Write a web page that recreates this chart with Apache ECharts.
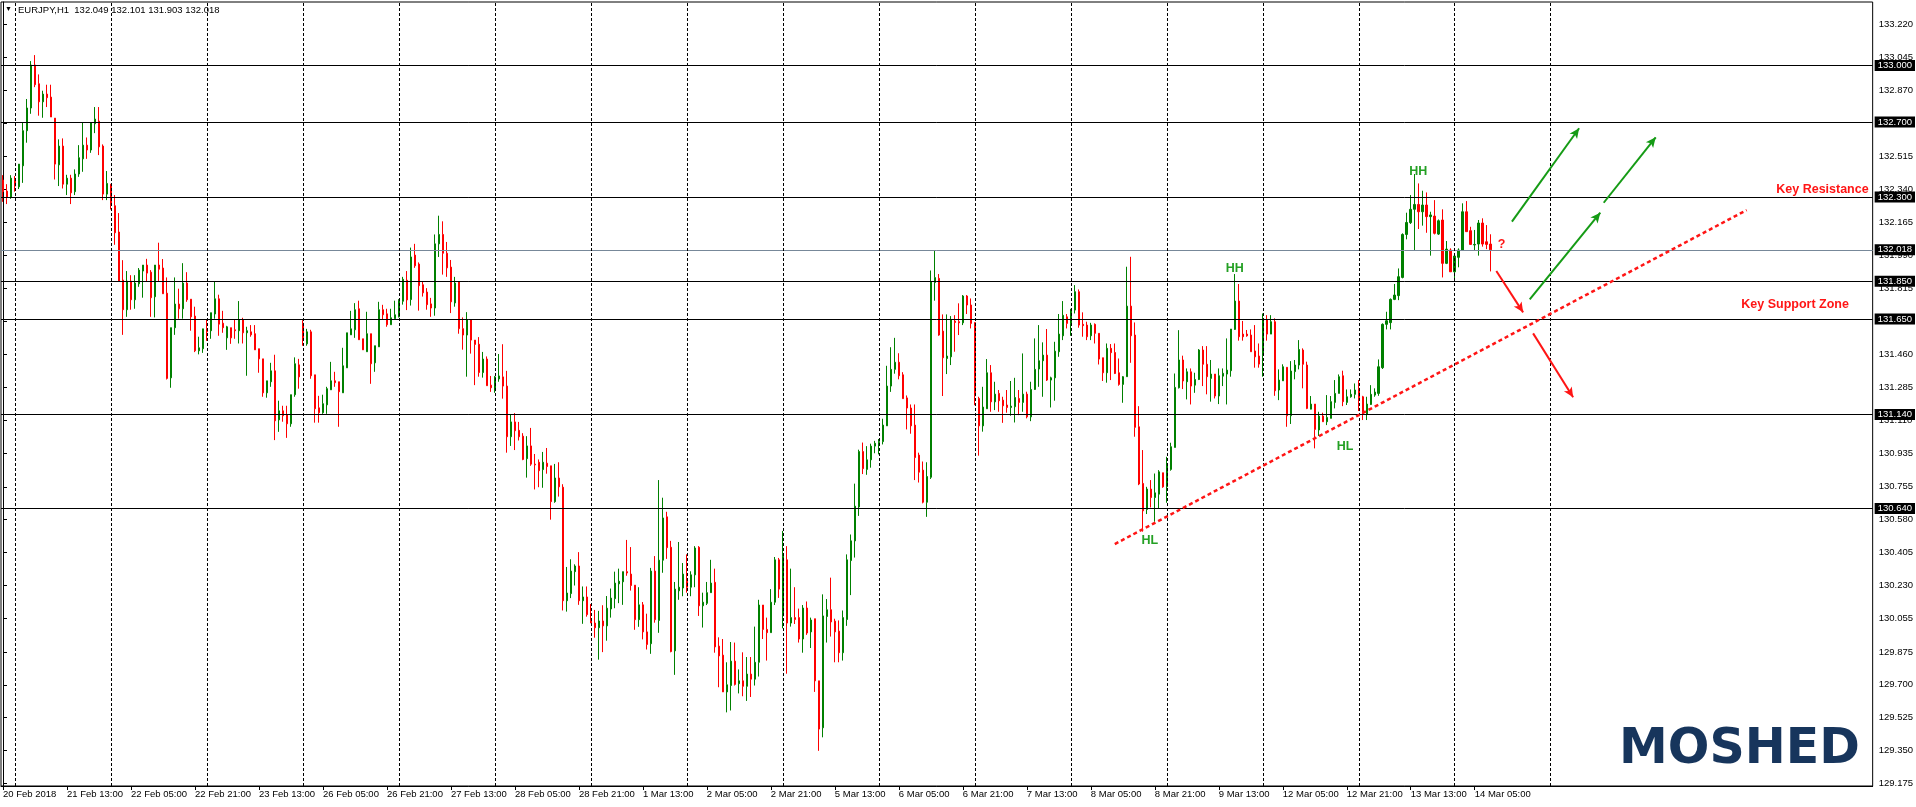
<!DOCTYPE html>
<html><head><meta charset="utf-8">
<script src="https://cdn.jsdelivr.net/npm/echarts@6/dist/echarts.min.js"></script>
<style>html,body{margin:0;padding:0;background:#fff}#c{width:1916px;height:807px}</style>
</head><body><div id="c"></div>
<script>
const headerText = 'EURJPY,H1  132.049 132.101 131.903 132.018';
const xTickLabels = ['20 Feb 2018','21 Feb 13:00','22 Feb 05:00','22 Feb 21:00','23 Feb 13:00','26 Feb 05:00','26 Feb 21:00','27 Feb 13:00','28 Feb 05:00','28 Feb 21:00','1 Mar 13:00','2 Mar 05:00','2 Mar 21:00','5 Mar 13:00','6 Mar 05:00','6 Mar 21:00','7 Mar 13:00','8 Mar 05:00','8 Mar 21:00','9 Mar 13:00','12 Mar 05:00','12 Mar 21:00','13 Mar 13:00','14 Mar 05:00'];
const barsPerXLabel = 16;
const yTickLabels = [133.220,133.045,132.870,132.695,132.515,132.340,132.165,131.990,131.815,131.640,131.460,131.285,131.110,130.935,130.755,130.580,130.405,130.230,130.055,129.875,129.700,129.525,129.350,129.175];
const levelLines = [133.000,132.700,132.300,131.850,131.650,131.140,130.640];
const currentPrice = 132.018;
const daySeparators = [3,27,51,75,99,123,147,171,195,219,243,267,291,315,339,363,387];
const barSlots = 468;
const categories = Array.from({length: barSlots}, (_, i) => String(i));
// [open, close, low, high]
const candles = [
[132.390,132.328,132.274,132.416],[132.331,132.297,132.262,132.368],[132.297,132.400,132.290,132.416],[132.393,132.358,132.328,132.411],[132.354,132.475,132.342,132.475],
[132.466,132.653,132.375,132.695],[132.653,132.774,132.589,132.822],[132.774,133.003,132.743,133.024],[133.003,132.898,132.885,133.056],[132.903,132.807,132.733,132.953],
[132.807,132.848,132.722,132.866],[132.848,132.829,132.779,132.898],[132.832,132.726,132.726,132.898],[132.720,132.475,132.393,132.720],[132.471,132.571,132.358,132.607],
[132.571,132.368,132.345,132.612],[132.368,132.400,132.310,132.418],[132.400,132.322,132.262,132.418],[132.328,132.422,132.310,132.447],[132.422,132.509,132.407,132.576],
[132.503,132.576,132.434,132.695],[132.576,132.550,132.503,132.617],[132.550,132.695,132.535,132.695],[132.690,132.715,132.640,132.779],[132.704,132.567,132.523,132.779],
[132.571,132.315,132.283,132.580],[132.315,132.372,132.283,132.438],[132.368,132.256,132.233,132.368],[132.253,132.109,132.045,132.310],[132.113,131.851,131.851,132.214],
[131.857,131.699,131.565,131.963],[131.699,131.851,131.661,131.905],[131.851,131.752,131.699,131.883],[131.752,131.841,131.704,131.883],[131.837,131.910,131.821,131.921],
[131.905,131.937,131.763,131.937],[131.937,131.894,131.851,131.970],[131.899,131.763,131.661,131.910],[131.768,131.937,131.658,131.937],[131.937,131.915,131.851,132.056],
[131.921,131.784,131.784,131.969],[131.787,131.333,131.327,131.871],[131.336,131.603,131.283,131.603],[131.603,131.729,131.565,131.871],[131.729,131.704,131.651,131.811],
[131.704,131.841,131.651,131.947],[131.841,131.752,131.741,131.899],[131.755,131.661,131.587,131.755],[131.665,131.480,131.473,131.715],[131.480,131.496,131.461,131.555],
[131.491,131.597,131.469,131.597],[131.597,131.581,131.533,131.645],[131.587,131.683,131.544,131.683],[131.676,131.757,131.651,131.851],[131.757,131.622,131.560,131.779],
[131.627,131.603,131.576,131.693],[131.549,131.608,131.485,131.613],[131.603,131.549,131.517,131.603],[131.592,131.587,131.544,131.645],[131.587,131.645,131.519,131.745],
[131.645,131.576,131.519,131.656],[131.576,131.587,131.347,131.608],[131.581,131.565,131.555,131.617],[131.571,131.485,131.485,131.617],[131.491,131.437,131.363,131.491],
[131.437,131.256,131.235,131.437],[131.256,131.320,131.230,131.320],[131.315,131.373,131.288,131.416],[131.373,131.107,131.004,131.459],[131.112,131.160,131.048,131.214],
[131.160,131.134,131.102,131.187],[131.139,131.091,131.016,131.187],[131.091,131.246,131.075,131.246],[131.246,131.411,131.235,131.445],[131.405,131.341,131.278,131.437],
[131.627,131.549,131.507,131.643],[131.517,131.581,131.507,131.597],[131.581,131.347,131.331,131.592],[131.352,131.171,131.097,131.352],[131.176,131.150,131.097,131.240],
[131.150,131.198,131.144,131.246],[131.192,131.278,131.144,131.288],[131.272,131.320,131.272,131.421],[131.320,131.310,131.288,131.368],[131.315,131.262,131.075,131.315],
[131.256,131.400,131.256,131.496],[131.389,131.576,131.389,131.576],[131.565,131.597,131.565,131.693],[131.592,131.699,131.549,131.734],[131.704,131.539,131.539,131.747],
[131.544,131.485,131.485,131.544],[131.475,131.571,131.475,131.688],[131.571,131.411,131.304,131.571],[131.416,131.507,131.368,131.507],[131.501,131.699,131.501,131.741],
[131.699,131.672,131.645,131.725],[131.677,131.619,131.608,131.704],[131.619,131.656,131.619,131.704],[131.651,131.672,131.651,131.747],[131.661,131.747,131.658,131.755],
[131.744,131.861,131.726,131.874],[131.856,131.751,131.697,131.905],[131.753,131.980,131.721,132.030],[131.990,131.933,131.922,132.050],[131.942,131.827,131.694,131.951],
[131.832,131.789,131.769,131.847],[131.793,131.726,131.699,131.814],[131.730,131.708,131.661,131.762],[131.708,132.050,131.667,132.100],[132.050,132.100,131.980,132.200],
[132.100,132.000,131.886,132.170],[132.000,131.922,131.874,132.060],[131.926,131.741,131.681,131.964],[131.735,131.841,131.715,131.874],[131.847,131.598,131.571,131.847],
[131.598,131.564,131.486,131.658],[131.564,131.645,131.342,131.686],[131.645,131.537,131.465,131.645],[131.537,131.514,131.297,131.537],[131.515,131.364,131.342,131.553],
[131.364,131.436,131.337,131.474],[131.436,131.294,131.294,131.450],[131.297,131.283,131.261,131.346],[131.267,131.341,131.256,131.346],[131.330,131.346,131.315,131.463],
[131.341,131.292,131.225,131.515],[131.292,131.022,130.937,131.373],[131.022,131.101,130.973,131.141],[131.101,131.054,130.951,131.148],[131.056,131.022,131.002,131.101],
[131.025,130.901,130.897,131.041],[130.905,130.973,130.804,131.025],[130.973,130.876,130.867,131.069],[130.876,130.872,130.741,130.930],[130.886,130.841,130.753,130.901],
[130.847,130.886,130.750,130.941],[130.881,130.863,130.825,130.962],[130.867,130.676,130.580,130.867],[130.676,130.802,130.670,130.877],[130.802,130.755,130.703,130.886],
[130.753,130.148,130.096,130.769],[130.148,130.189,130.090,130.328],[130.186,130.306,130.162,130.369],[130.303,130.333,130.229,130.342],[130.333,130.148,130.126,130.407],
[130.148,130.168,130.025,130.224],[130.168,130.074,130.063,130.224],[130.043,130.029,130.029,130.130],[130.029,130.004,129.951,130.099],[130.004,130.040,129.834,130.094],
[130.040,130.014,129.874,130.124],[130.014,130.108,129.935,130.173],[130.104,130.162,130.058,130.213],[130.159,130.242,130.108,130.303],[130.238,130.252,130.135,130.319],
[130.249,130.303,130.126,130.303],[130.303,130.296,130.281,130.472],[130.290,130.229,130.202,130.434],[130.231,130.047,129.993,130.231],[130.047,130.126,130.009,130.220],
[130.126,129.982,129.942,130.141],[129.982,129.915,129.888,130.079],[129.919,130.306,129.865,130.323],[130.306,130.047,130.031,130.386],[130.043,130.364,129.977,130.791],
[130.364,130.589,130.297,130.697],[130.595,130.431,130.371,130.622],[130.433,129.877,129.873,130.467],[129.881,130.210,129.753,130.248],[130.201,130.220,130.153,130.461],
[130.216,130.290,130.172,130.349],[130.252,130.220,130.191,130.395],[130.220,130.286,130.172,130.305],[130.286,130.429,130.220,130.439],[130.433,130.121,130.067,130.439],
[130.121,130.140,130.005,130.191],[130.134,130.191,130.125,130.248],[130.191,130.242,130.191,130.366],[130.246,129.902,129.871,130.319],[129.906,129.854,129.687,129.953],
[129.858,129.662,129.662,129.944],[129.662,129.700,129.553,129.820],[129.696,129.826,129.563,129.928],[129.826,129.702,129.696,129.925],[129.706,129.721,129.654,129.782],
[129.721,129.692,129.639,129.873],[129.692,129.757,129.614,129.848],[129.757,129.730,129.635,129.848],[129.730,129.820,129.696,130.010],[129.820,130.125,129.744,130.153],
[130.125,129.995,129.944,130.125],[129.995,129.978,129.829,130.058],[129.978,130.140,129.978,130.210],[130.140,130.366,130.125,130.381],[130.366,130.210,130.163,130.376],
[130.067,130.385,130.001,130.520],[130.366,130.029,129.759,130.439],[130.029,130.058,130.010,130.319],[130.058,130.048,130.024,130.220],[130.058,129.944,129.925,130.106],
[129.944,130.109,129.871,130.125],[130.109,129.976,129.966,130.144],[129.982,130.045,129.896,130.058],[130.052,129.721,129.662,130.052],[129.721,129.464,129.348,129.721],
[129.471,130.067,129.420,130.182],[130.064,130.100,129.925,130.157],[130.100,130.035,129.957,130.271],[130.039,129.982,129.820,130.052],[129.986,129.871,129.820,130.043],
[129.871,130.058,129.829,130.096],[130.048,130.366,130.014,130.395],[130.362,130.467,130.178,130.501],[130.467,130.652,130.378,130.772],[130.648,130.943,130.600,130.953],
[130.943,130.852,130.823,130.991],[130.848,130.899,130.819,130.972],[130.899,130.972,130.857,130.985],[130.972,130.987,130.934,131.000],[130.991,130.996,130.928,131.010],
[130.996,131.084,130.981,131.118],[131.080,131.292,131.080,131.400],[131.292,131.381,131.261,131.499],[131.381,131.419,131.358,131.549],[131.419,131.347,131.328,131.467],
[131.352,131.225,131.225,131.366],[131.229,131.175,131.061,131.242],[131.175,131.080,131.038,131.194],[131.084,130.911,130.791,131.194],[130.924,130.833,130.778,130.937],
[130.844,130.673,130.667,130.890],[130.673,130.810,130.595,130.886],[130.806,131.847,130.797,131.908],[131.844,131.870,131.747,132.015],[131.866,131.564,131.560,131.889],
[131.585,131.443,131.239,131.674],[131.439,131.452,131.356,131.674],[131.448,131.647,131.404,131.665],[131.638,131.631,131.475,131.670],[131.635,131.629,131.564,131.733],
[131.629,131.772,131.617,131.777],[131.772,131.724,131.676,131.777],[131.724,131.626,131.599,131.759],[131.631,131.240,131.190,131.631],[131.226,131.080,130.921,131.235],
[131.080,131.180,131.049,131.288],[131.171,131.363,131.171,131.436],[131.363,131.208,131.155,131.404],[131.208,131.249,131.164,131.315],[131.253,131.214,131.155,131.271],
[131.217,131.187,131.096,131.235],[131.191,131.178,131.150,131.271],[131.178,131.185,131.134,131.319],[131.182,131.231,131.098,131.336],[131.226,131.205,131.137,131.271],
[131.205,131.249,131.155,131.466],[131.249,131.128,131.120,131.262],[131.128,131.274,131.105,131.315],[131.274,131.381,131.271,131.546],[131.383,131.427,131.288,131.617],
[131.427,131.457,131.235,131.525],[131.457,131.324,131.319,131.596],[131.324,131.336,131.178,131.342],[131.336,131.478,131.214,131.528],[131.475,131.569,131.448,131.676],
[131.560,131.669,131.537,131.745],[131.661,131.626,131.599,131.676],[131.626,131.702,131.560,131.702],[131.697,131.795,131.679,131.830],[131.795,131.617,131.603,131.807],
[131.621,131.614,131.555,131.685],[131.617,131.555,131.537,131.635],[131.560,131.617,131.537,131.629],[131.621,131.573,131.519,131.626],[131.573,131.436,131.407,131.573],
[131.443,131.363,131.319,131.443],[131.363,131.493,131.310,131.519],[131.493,131.470,131.324,131.516],[131.471,131.359,131.356,131.519],[131.363,131.301,131.294,131.439],
[131.301,131.342,131.203,131.345],[131.342,131.718,131.342,131.928],[131.718,131.560,131.416,131.981],[131.564,131.072,131.022,131.631],[131.075,130.770,130.764,131.185],
[130.773,130.627,130.516,130.951],[130.634,130.743,130.610,130.755],[130.743,130.698,130.645,130.791],[130.698,130.723,130.569,130.826],[130.716,130.835,130.640,130.844],
[130.830,130.755,130.750,130.830],[130.755,130.871,130.670,130.915],[130.848,130.969,130.841,130.990],[130.965,131.285,130.965,131.359],[131.283,131.431,131.279,131.590],
[131.431,131.319,131.276,131.454],[131.315,131.368,131.221,131.386],[131.368,131.292,131.194,131.386],[131.297,131.327,131.256,131.363],[131.327,131.484,131.324,131.489],
[131.484,131.408,131.292,131.505],[131.408,131.342,131.248,131.505],[131.333,131.356,131.209,131.431],[131.356,131.239,131.226,131.356],[131.239,131.347,131.196,131.386],
[131.345,131.360,131.292,131.386],[131.356,131.377,131.194,131.546],[131.374,131.596,131.342,131.596],[131.594,131.745,131.591,131.889],[131.745,131.555,131.534,131.836],
[131.569,131.555,131.534,131.639],[131.569,131.560,131.555,131.591],[131.564,131.475,131.475,131.594],[131.479,131.448,131.390,131.617],[131.452,131.409,131.390,131.519],
[131.457,131.647,131.342,131.679],[131.647,131.569,131.534,131.670],[131.569,131.635,131.569,131.670],[131.635,131.267,131.240,131.653],[131.271,131.324,131.217,131.381],
[131.320,131.395,131.320,131.408],[131.392,131.134,131.075,131.392],[131.134,131.372,131.090,131.425],[131.369,131.404,131.328,131.431],[131.404,131.487,131.381,131.537],
[131.484,131.408,131.280,131.493],[131.404,131.173,131.169,131.422],[131.169,131.196,131.168,131.239],[131.196,131.061,130.960,131.196],[131.058,131.132,131.026,131.155],
[131.132,131.102,131.102,131.150],[131.102,131.125,131.084,131.244],[131.120,131.209,131.120,131.239],[131.205,131.253,131.173,131.324],[131.253,131.342,131.253,131.354],
[131.347,131.209,131.185,131.374],[131.205,131.235,131.191,131.274],[131.235,131.248,131.230,131.274],[131.248,131.271,131.226,131.306],[131.280,131.230,131.159,131.324],
[131.235,131.141,131.111,131.240],[131.143,131.196,131.111,131.235],[131.194,131.248,131.191,131.297],[131.244,131.260,131.235,131.280],[131.253,131.395,131.240,131.434],
[131.390,131.621,131.383,131.626],[131.621,131.640,131.594,131.688],[131.630,131.754,131.594,131.759],[131.754,131.777,131.750,131.836],[131.774,131.875,131.750,131.919],
[131.871,132.100,131.866,132.106],[132.100,132.164,132.074,132.216],[132.163,132.234,132.156,132.310],[132.234,132.260,132.017,132.422],[132.260,132.221,132.129,132.372],
[132.221,132.257,132.147,132.333],[132.257,132.195,132.109,132.324],[132.195,132.204,131.987,132.221],[132.198,132.106,132.100,132.283],[132.102,132.173,132.097,132.180],
[132.177,131.946,131.871,132.234],[131.946,132.022,131.942,132.065],[132.017,131.901,131.901,132.026],[131.901,131.985,131.853,131.996],[131.978,132.017,131.925,132.026],
[132.017,132.221,132.013,132.266],[132.221,132.115,132.115,132.278],[132.120,132.047,132.047,132.141],[132.044,132.047,132.017,132.124],[132.049,132.161,131.987,132.177],
[132.161,132.049,132.035,132.186],[132.061,132.047,132.022,132.150],[132.049,132.018,131.903,132.101]
];

const axisFont = 'Liberation Sans, Arial, sans-serif';
const GREEN = '#008000', RED = '#ff0000';
const ANN_GREEN = '#159b15', ANN_RED = '#ff1515', TXT_GREEN = '#24a024';
const showXLabel = (i) => i % barsPerXLabel === 0 && (i / barsPerXLabel) < xTickLabels.length;

const chart = echarts.init(document.getElementById('c'), null, {renderer: 'canvas'});

const levelItems = levelLines.map(v => ({yAxis: v, lineStyle: {color: '#000', width: 1, type: 'solid'}}));
levelItems.push({yAxis: currentPrice, lineStyle: {color: '#778899', width: 1, type: 'solid'}});
const sepItems = daySeparators.map(i => ({xAxis: i, lineStyle: {color: '#000', width: 1, type: [3, 2]}, label: {show: false}}));

function seg(a, b, color, opt) {
  return [Object.assign({coord: a, lineStyle: Object.assign({color: color, width: 2, type: 'solid'}, opt || {})}),
          {coord: b, symbol: 'arrow', symbolSize: [7, 10]}];
}

chart.setOption({
  animation: false,
  backgroundColor: '#fff',
  grid: {left: 1, right: 43, top: 2, bottom: 21, show: true, borderColor: '#000', borderWidth: 1, containLabel: false},
  xAxis: [{
    type: 'category', data: categories, gridIndex: 0, boundaryGap: true,
    axisLine: {show: true, lineStyle: {color: '#000', width: 1}},
    axisTick: {show: true, alignWithLabel: true, interval: (i) => showXLabel(i), length: 4, lineStyle: {color: '#000'}},
    axisLabel: {show: true, interval: (i) => showXLabel(i), formatter: (v, i) => xTickLabels[i / barsPerXLabel],
      align: 'left', margin: 3, color: '#000', fontSize: 9.5, fontFamily: axisFont},
    splitLine: {show: false}
  }, {
    type: 'value', gridIndex: 0, min: -0.5, max: barSlots - 0.5, show: false
  }],
  yAxis: [{
    type: 'value', position: 'right', min: 129.1606, max: 133.3389, scale: true,
    axisLine: {show: true, lineStyle: {color: '#000', width: 1}},
    axisTick: {show: true, customValues: yTickLabels, length: 4, lineStyle: {color: '#000'}},
    axisLabel: {show: true, customValues: yTickLabels, formatter: (v) => Number(v).toFixed(3), margin: 6,
      color: '#000', fontSize: 9.5, fontFamily: axisFont},
    splitLine: {show: false}
  }],
  series: [{
    type: 'candlestick', xAxisIndex: 0, yAxisIndex: 0, data: candles, barWidth: 2,
    itemStyle: {color: GREEN, color0: RED, borderColor: GREEN, borderColor0: RED, borderWidth: 1},
    silent: true,
    markLine: {
      silent: true, animation: false, symbol: ['none', 'none'], precision: 3,
      label: {show: true, position: 'end', distance: 2, formatter: (p) => Number(p.value).toFixed(3),
        backgroundColor: '#000', color: '#fff', padding: [1, 3, 0, 3], fontSize: 9.5, fontFamily: axisFont},
      data: levelItems.concat(sepItems)
    }
  }, {
    type: 'line', xAxisIndex: 1, yAxisIndex: 0, data: [], silent: true,
    markLine: {
      silent: true, animation: false, symbol: ['none', 'none'], label: {show: false},
      data: [
        [{coord: [278, 130.450], lineStyle: {color: ANN_RED, width: 2.5, type: [4, 3]}}, {coord: [436, 132.230]}],
        seg([377.3, 132.168], [394.1, 132.666], ANN_GREEN),
        seg([400.25, 132.269], [413.25, 132.618], ANN_GREEN),
        seg([381.75, 131.754], [399.4, 132.216], ANN_GREEN),
        seg([373.4, 131.905], [380.1, 131.685], ANN_RED),
        seg([382.6, 131.573], [392.6, 131.232], ANN_RED)
      ]
    },
    markPoint: {
      silent: true, animation: false, symbol: 'circle', symbolSize: 0,
      label: {show: true, position: 'inside', formatter: (p) => p.name, fontWeight: 'bold', fontSize: 12.5,
        fontFamily: 'Liberation Sans, Arial, sans-serif', color: TXT_GREEN},
      data: [
        {name: 'HH', coord: [308, 131.92]},
        {name: 'HH', coord: [353.9, 132.434]},
        {name: 'HL', coord: [286.75, 130.471]},
        {name: 'HL', coord: [335.6, 130.972]},
        {name: 'Key Resistance', coord: [466.5, 132.337], label: {color: ANN_RED, align: 'right'}},
        {name: 'Key Support Zone', coord: [448.1, 131.724], label: {color: ANN_RED}},
        {name: '?', coord: [374.7, 132.044], label: {color: ANN_RED}}
      ]
    }
  }],
  graphic: [
    {type: 'text', left: 5, top: 6, style: {text: '\u25BC', fontSize: 7, fill: '#000'}},
    {type: 'text', left: 18, top: 5, style: {text: headerText, fontSize: 9.5, fontFamily: axisFont, fill: '#000'}},
    {type: 'text', left: 1619, top: 726, style: {text: 'MOSHED', fontSize: 49, fontWeight: 'bold', fontFamily: 'DejaVu Sans, sans-serif', fill: '#17355c'}}
  ]
});
</script>
</body></html>
